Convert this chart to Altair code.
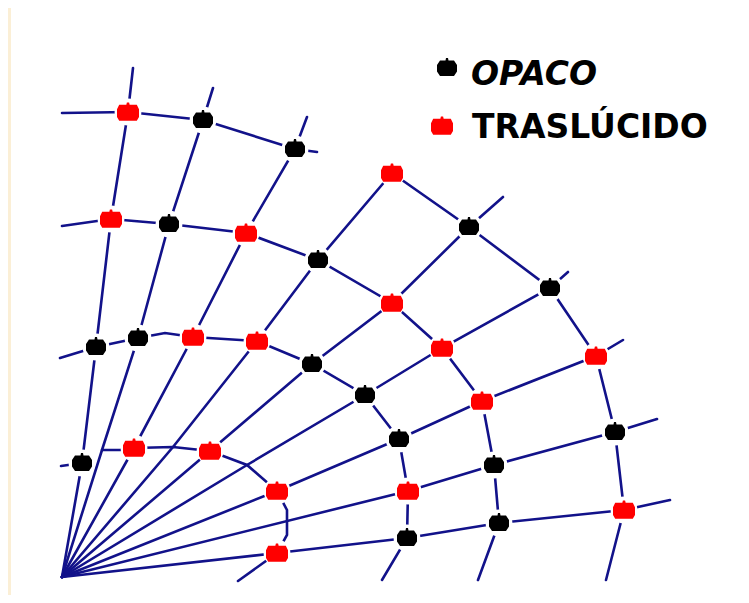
import altair as alt
import pandas as pd

# ---------------- data (pixel-like units) ----------------
# Dots: black = OPACO, red = TRASLÚCIDO
opaco_x = [203, 295, 169, 318, 469, 550, 96, 138, 312, 365, 615, 399, 494, 82, 499, 407]
opaco_y = [120, 149, 224, 260, 227, 288, 347, 338, 364, 395, 432, 439, 465, 463, 523, 538]

trasl_x = [128, 111, 246, 392, 392, 193, 257, 442, 596, 482, 134, 210, 277, 408, 624, 277]
trasl_y = [112, 219, 233, 173, 303, 337, 341, 348, 356, 401, 448, 451, 491, 491, 510, 553]

# Grid lines (radial lines from the origin and the curved "arcs"), one x list and one y list each
line_ids = ["R1", "R2", "R3", "R4", "R5", "R6", "R7", "R8", "R9",
            "A1s", "A1", "A2", "A3", "A4a", "A4b"]
line_x = [
    [62, 82, 96, 111, 128, 133],
    [62, 102, 138, 169, 203, 213],
    [62, 134, 193, 246, 295, 307],
    [62, 173, 257, 318, 392],
    [62, 210, 312, 392, 469, 503],
    [62, 247, 365, 442, 550, 568],
    [62, 277, 399, 482, 596, 623],
    [62, 408, 494, 615, 657],
    [62, 277, 407, 499, 624, 670],
    [61, 82],
    [102, 120, 134, 173, 210, 247, 277, 287, 287, 277, 238],
    [60, 96, 138, 165, 193, 257, 312, 365, 399, 408, 407, 382],
    [62, 111, 169, 246, 318, 392, 442, 482, 494, 499, 478],
    [62, 128, 203, 295, 317],
    [392, 469, 550, 596, 615, 624, 606],
]
line_y = [
    [577, 463, 347, 219, 112, 68],
    [577, 450, 338, 224, 120, 88],
    [577, 448, 337, 233, 149, 117],
    [577, 447, 341, 260, 173],
    [577, 451, 364, 303, 227, 197],
    [577, 465, 395, 348, 288, 272],
    [577, 491, 439, 401, 356, 340],
    [577, 491, 465, 432, 419],
    [577, 553, 538, 523, 510, 500],
    [466, 463],
    [450, 450, 448, 447, 451, 465, 491, 510, 535, 553, 581],
    [358, 347, 338, 333, 337, 341, 364, 395, 439, 491, 538, 580],
    [226, 219, 224, 233, 260, 303, 348, 401, 465, 523, 580],
    [113, 112, 120, 149, 152],
    [173, 227, 288, 356, 432, 510, 580],
]

legend_labels = ["OPACO", "TRASLÚCIDO"]
legend_dot_x = [447, 442]
legend_dot_y = [68, 126]
legend_text_x = [471, 472]
legend_text_y = [85, 138]

# ---------------- build tables ----------------
rows = []
for lid, xs_, ys_ in zip(line_ids, line_x, line_y):
    for i, (xv, yv) in enumerate(zip(xs_, ys_)):
        rows.append({"line": lid, "o": i, "x": xv, "y": yv})
lines_df = pd.DataFrame(rows)

opaco_df = pd.DataFrame({"x": opaco_x + [legend_dot_x[0]], "y": opaco_y + [legend_dot_y[0]]})
trasl_df = pd.DataFrame({"x": trasl_x + [legend_dot_x[1]], "y": trasl_y + [legend_dot_y[1]]})
all_dots = pd.concat([opaco_df, trasl_df], ignore_index=True)

# page: 8px margin + 733 x 587 chart = 749 x 603 window
X0, X1, Y0, Y1 = 8, 741, 8, 595
panel_df = pd.DataFrame({"x": [11], "x2": [X1], "y": [Y0], "y2": [Y1]})
legend_df = pd.DataFrame({"label": legend_labels, "x": legend_text_x, "y": legend_text_y})

xs = alt.Scale(domain=[X0, X1], nice=False, zero=False)
ys = alt.Scale(domain=[Y0, Y1], nice=False, zero=False, reverse=True)
X = alt.X("x:Q", scale=xs, axis=None)
Y = alt.Y("y:Q", scale=ys, axis=None)

NAVY = "#12128a"

black_path = ("M-1,-0.3 L-0.7,-0.75 L-0.15,-0.75 L-0.1,-1 L0.1,-1 L0.15,-0.75 L0.7,-0.75 "
              "L1,-0.3 L1,0.35 L0.7,0.8 L-0.7,0.8 L-1,0.35 Z")
red_path = ("M-1,-0.25 L-0.8,-0.66 L-0.15,-0.66 L-0.1,-0.86 L0.1,-0.86 L0.15,-0.66 L0.8,-0.66 "
            "L1,-0.25 L1,0.45 L0.8,0.8 L-0.8,0.8 L-1,0.45 Z")

panel = alt.Chart(panel_df).mark_rect(color="white").encode(
    x=alt.X("x:Q", scale=xs, axis=None), x2="x2:Q",
    y=alt.Y("y:Q", scale=ys, axis=None), y2="y2:Q")

lines = alt.Chart(lines_df).mark_line(color=NAVY, strokeWidth=2.6, strokeCap="round").encode(
    x=X, y=Y, detail="line:N", order="o:Q")

halo = alt.Chart(all_dots).mark_point(shape="circle", filled=True, color="white",
                                      opacity=1, size=720, strokeWidth=0).encode(x=X, y=Y)

black_dots = alt.Chart(opaco_df).mark_point(shape=black_path, filled=True, color="black",
                                            opacity=1, size=400, strokeWidth=0).encode(x=X, y=Y)
red_dots = alt.Chart(trasl_df).mark_point(shape=red_path, filled=True, color="#ff0000",
                                          opacity=1, size=484, strokeWidth=0).encode(x=X, y=Y)

text_opaco = alt.Chart(legend_df.iloc[[0]]).mark_text(
    align="left", baseline="alphabetic", font="DejaVu Sans", fontSize=33,
    fontWeight="bold", fontStyle="italic", color="black").encode(x=X, y=Y, text="label:N")
text_trasl = alt.Chart(legend_df.iloc[[1]]).mark_text(
    align="left", baseline="alphabetic", font="DejaVu Sans", fontSize=33,
    fontWeight="bold", color="black").encode(x=X, y=Y, text="label:N")

chart = alt.layer(panel, lines, halo, black_dots, red_dots, text_opaco, text_trasl).properties(
    width=X1 - X0, height=Y1 - Y0, padding=0, autosize=alt.AutoSizeParams(type="none"),
    background="#fbefd6"
).configure_view(stroke=None)

chart.save("out.html", embed_options={"renderer": "svg", "actions": False})
